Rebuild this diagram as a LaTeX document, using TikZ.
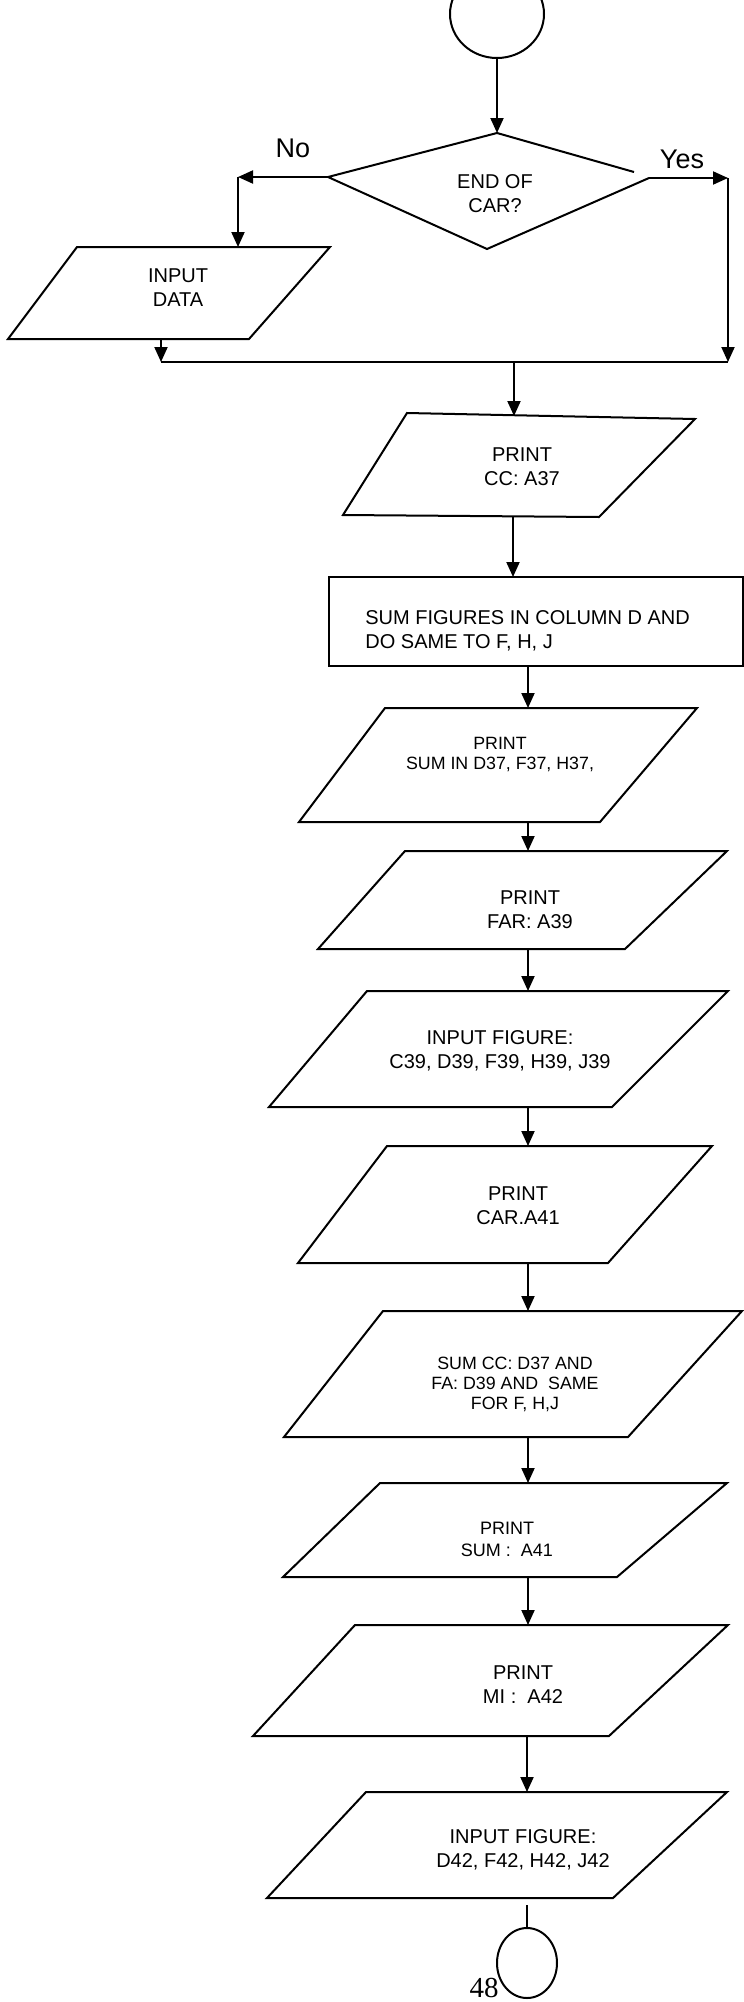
\documentclass[tikz,border=0pt]{standalone}
\usepackage{fontspec}
\setmainfont{Liberation Sans}
\newfontfamily\myserif{Liberation Serif}
\usetikzlibrary{arrows.meta,shapes.geometric}
\begin{document}
\begin{tikzpicture}[x=0.5pt,y=-0.5pt,
  line/.style={line width=1pt, line join=miter},
  arr/.style={line, -{Triangle[length=7.5pt,width=6.5pt]}},
  txt/.style={align=center, inner sep=0pt, font=\fontsize{10}{12}\selectfont},
  smalltxt/.style={align=center, inner sep=0pt, font=\fontsize{8.9}{10}\selectfont},
  midtxt/.style={align=center, inner sep=0pt, font=\fontsize{9}{11}\selectfont},
  lbl/.style={inner sep=0pt, font=\fontsize{13.5}{16}\selectfont},
  terminal/.style={ellipse, draw, line, inner sep=0pt}
]
\useasboundingbox (0,0) rectangle (744,2002);

% start connector (cut by the top edge)
\begin{scope}
\clip (0,0) rectangle (744,2002);
\node[terminal, minimum width=47pt, minimum height=44pt] (start) at (497,14) {};
\end{scope}

% decision
\coordinate (dT) at (497,133);
\coordinate (dL) at (328,177);
\coordinate (dR) at (649,178);
\coordinate (dB) at (487,249);
\coordinate (dG) at (634,172);
\draw[line] (dG) -- (dT) -- (dL) -- (dB) -- (dR);
\node[txt] (dtext) at (495,193.5) {END OF\\CAR?};
\draw[arr] (start.south) -- (dT);

\node[lbl] (no) at (293,148) {No};
\node[lbl] (yes) at (682,159) {Yes};

% No branch
\coordinate (nc) at (238,177);
\coordinate (inT) at (238,247);
\draw[arr] (dL) -- (nc);
\draw[arr] (nc) -- (inT);
\draw[line] (77,247) -- (330,247) -- (249,339) -- (8,339) -- cycle;
\node[txt] (indata) at (178,287.5) {INPUT\\DATA};

% Yes branch and merge
\coordinate (yc) at (728,178);
\coordinate (inB) at (161,339);
\coordinate (mL) at (161,362);
\coordinate (mR) at (728,362);
\coordinate (mC) at (514,362);
\draw[arr] (dR) -- (yc);
\draw[arr] (yc) -- (mR);
\draw[arr] (inB) -- (mL);
\draw[line] (mL) -- (mR);

% PRINT CC
\coordinate (p1T) at (514,416);
\coordinate (p1B) at (513,517);
\draw[arr] (mC) -- (p1T);
\draw[line] (407,413) -- (695,419) -- (599,517) -- (343,515) -- cycle;
\node[txt] (p1) at (522,466.5) {PRINT\\CC: A37};

% rectangle
\node[draw, line, minimum width=207pt, minimum height=44.5pt, inner sep=0pt] (sumbox) at (536,621.5) {};
\node[txt, align=left, anchor=west] (sumtext) at (365,631) {SUM FIGURES IN COLUMN D AND\\DO SAME TO F, H, J};
\coordinate (rT) at (513,577);
\draw[arr] (p1B) -- (rT);

% PRINT SUM IN
\coordinate (rB) at (528,666);
\coordinate (p2T) at (528,708);
\coordinate (p2B) at (528,822);
\draw[arr] (rB) -- (p2T);
\draw[line] (385,708) -- (697,708) -- (600,822) -- (299,822) -- cycle;
\node[smalltxt] (p2) at (500,755) {PRINT\\SUM IN D37, F37, H37,};

% PRINT FAR
\coordinate (p3T) at (528,851);
\coordinate (p3B) at (528,949);
\draw[arr] (p2B) -- (p3T);
\draw[line] (405,851) -- (727,851) -- (625,949) -- (318,949) -- cycle;
\node[txt] (p3) at (530,909.5) {PRINT\\FAR: A39};

% INPUT FIGURE C39
\coordinate (p4T) at (528,991);
\coordinate (p4B) at (528,1107);
\draw[arr] (p3B) -- (p4T);
\draw[line] (367,991) -- (728,991) -- (612,1107) -- (269,1107) -- cycle;
\node[txt] (p4) at (500,1050.5) {INPUT FIGURE:\\C39, D39, F39, H39, J39};

% PRINT CAR
\coordinate (p5T) at (528,1146);
\coordinate (p5B) at (528,1263);
\draw[arr] (p4B) -- (p5T);
\draw[line] (387,1146) -- (712,1146) -- (608,1263) -- (298,1263) -- cycle;
\node[txt] (p5) at (518,1206) {PRINT\\CAR.A41};

% SUM CC
\coordinate (p6T) at (528,1311);
\coordinate (p6B) at (528,1437);
\draw[arr] (p5B) -- (p6T);
\draw[line] (383,1311) -- (742,1311) -- (628,1437) -- (284,1437) -- cycle;
\node[smalltxt] (p6) at (515,1384.5) {SUM CC: D37 AND\\FA: D39 AND\ \ SAME\\FOR F, H,J};

% PRINT SUM A41
\coordinate (p7T) at (528,1483);
\coordinate (p7B) at (528,1577);
\draw[arr] (p6B) -- (p7T);
\draw[line] (380,1483) -- (727,1483) -- (617,1577) -- (283,1577) -- cycle;
\node[midtxt] (p7) at (507,1539.5) {PRINT\\SUM :\ \ A41};

% PRINT MI
\coordinate (p8T) at (528,1625);
\coordinate (p8B) at (527,1736);
\draw[arr] (p7B) -- (p8T);
\draw[line] (355,1625) -- (728,1625) -- (609,1736) -- (253,1736) -- cycle;
\node[txt] (p8) at (523,1685) {PRINT\\MI :\ \ A42};

% INPUT FIGURE D42
\coordinate (p9T) at (527,1792);
\coordinate (p9B) at (527,1905);
\draw[arr] (p8B) -- (p9T);
\draw[line] (366,1792) -- (727,1792) -- (613,1898) -- (267,1898) -- cycle;
\node[txt] (p9) at (523,1850) {INPUT FIGURE:\\D42, F42, H42, J42};

% end connector
\node[terminal, minimum width=30pt, minimum height=35pt] (stop) at (527,1963) {};
\draw[line] (p9B) -- (stop.north);
\node[inner sep=0pt, anchor=base, font=\myserif\fontsize{14.5}{16}\selectfont] (page) at (484,1997) {48};
\end{tikzpicture}
\end{document}
